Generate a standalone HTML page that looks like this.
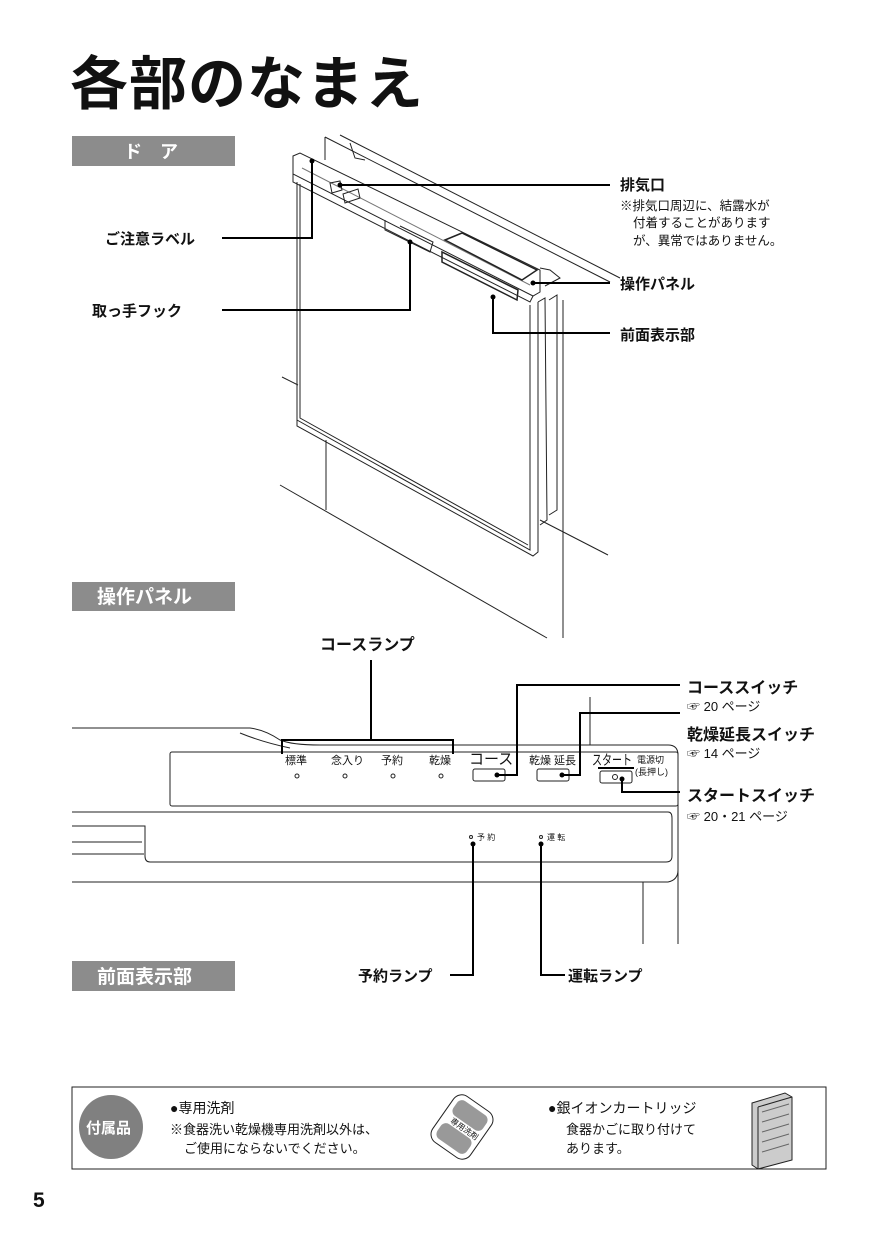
<!DOCTYPE html>
<html><head><meta charset="utf-8"><style>
body{margin:0;background:#fff;}
svg{display:block}
text{font-family:"Liberation Sans","Noto Sans CJK JP",sans-serif;fill:#111}
.b{font-weight:bold}
</style></head><body>
<svg width="874" height="1240" viewBox="0 0 874 1240" xmlns="http://www.w3.org/2000/svg">
<text x="70" y="104" font-size="58" class="b" font-weight="900" letter-spacing="1">各部のなまえ</text>

<rect x="72" y="136" width="163" height="30" fill="#8c8c8c"/>
<text x="124" y="158" font-size="18" style="fill:#fff" class="b">ド　ア</text>
<rect x="72" y="582" width="163" height="29" fill="#8c8c8c"/>
<text x="97" y="603" font-size="19" style="fill:#fff" class="b">操作パネル</text>
<rect x="72" y="961" width="163" height="30" fill="#8c8c8c"/>
<text x="97" y="983" font-size="19" style="fill:#fff" class="b">前面表示部</text>

<g fill="none" stroke="#222" stroke-width="1">
<line x1="325" y1="137" x2="610" y2="282"/>
<line x1="340" y1="135" x2="620" y2="278"/>
<line x1="325" y1="137" x2="325" y2="160"/>
<line x1="282" y1="377" x2="298" y2="385"/>
<line x1="280" y1="485" x2="547" y2="638"/>
<line x1="326" y1="440" x2="326" y2="510"/>
<line x1="540" y1="520" x2="608" y2="555"/>
<line x1="563" y1="300" x2="563" y2="638"/>
<path d="M293 156 L300 153 L540 270 L540 292 L533 296 L293 174 Z"/>
<path d="M293 174 L293 182 L530 302 L533 296"/>
<path d="M297 182 L297 420 L530 550 L530 305"/>
<path d="M300 184 L300 418 L528 545"/>
<path d="M297 420 L297 426 L533 556 L538 552 L538 302"/>
<path d="M538 302 L545 298 L547 520 L540 525"/>
<path d="M549 300 L557 295 L557 510 L549 515"/>
<path d="M302 168 L530 285" stroke="#777"/>
<path d="M330 183 L340 181 L342 190 L332 193 Z"/>
<path d="M343 194 L358 189 L360 198 L345 203 Z"/>
<path d="M385 220 L385 230 L430 252 L433 242 L400 226"/>
<path d="M445 240 L462 233 L537 270 L522 280 Z" stroke-width="1.5"/>
<path d="M442 252 L442 262 L517 300 L518 290 Z" stroke-width="1.5"/>
<path d="M350 143 L355 158 L365 160"/>
<path d="M540 268 L550 270 L560 278 L545 286"/>
</g>
<g fill="none" stroke="#000" stroke-width="2">
<polyline points="222,238 312,238 312,161"/>
<polyline points="222,310 410,310 410,242"/>
<line x1="340" y1="185" x2="610" y2="185"/>
<line x1="533" y1="283" x2="610" y2="283"/>
<polyline points="493,297 493,333 610,333"/>
</g>
<g fill="#000"><circle cx="312" cy="161" r="2.5"/><circle cx="410" cy="242" r="2.5"/><circle cx="340" cy="185" r="2.5"/><circle cx="533" cy="283" r="2.5"/><circle cx="493" cy="297" r="2.5"/></g>
<text x="105" y="244" font-size="15" class="b">ご注意ラベル</text>
<text x="92" y="316" font-size="15" class="b">取っ手フック</text>
<text x="620" y="190" font-size="15" class="b">排気口</text>
<text x="620" y="210" font-size="12.5">※排気口周辺に、結露水が</text>
<text x="633" y="227" font-size="12.5">付着することがあります</text>
<text x="633" y="245" font-size="12.5">が、異常ではありません。</text>
<text x="620" y="289" font-size="15" class="b">操作パネル</text>
<text x="620" y="340" font-size="15" class="b">前面表示部</text>

<text x="320" y="650" font-size="16" class="b">コースランプ</text>
<g fill="none" stroke="#222" stroke-width="1">
<path d="M72 728 L250 728 Q265 730 280 740 Q292 745 320 745 L668 745 Q678 745 678 755 L678 870 Q678 880 668 882 L72 882"/>
<path d="M240 733 Q262 742 290 748"/>
<rect x="170" y="752" width="508" height="54" rx="2"/>
<path d="M72 812 L668 812 Q672 812 672 818 L672 856 Q672 862 666 862 L150 862 Q145 862 145 856 L145 826 L72 826"/>
<path d="M72 842 L142 842 M72 854 L144 854"/>
<line x1="643" y1="882" x2="643" y2="944"/>
<line x1="678" y1="870" x2="678" y2="944"/>
<line x1="590" y1="697" x2="590" y2="745"/>
<rect x="473" y="769" width="32" height="12" rx="2"/>
<rect x="537" y="769" width="32" height="12" rx="2"/>
<rect x="600" y="771" width="32" height="12" rx="2"/>
<circle cx="297" cy="776" r="2"/><circle cx="345" cy="776" r="2"/><circle cx="393" cy="776" r="2"/><circle cx="441" cy="776" r="2"/>
<circle cx="615" cy="777" r="2.5"/><circle cx="471" cy="837" r="1.5"/><circle cx="541" cy="837" r="1.5"/>
</g>
<line x1="598" y1="768" x2="634" y2="768" stroke="#000" stroke-width="2"/>
<g font-size="11">
<text x="285" y="764">標準</text><text x="331" y="764">念入り</text><text x="381" y="764">予約</text><text x="429" y="764">乾燥</text>
<text x="529" y="764">乾燥 延長</text>
<text x="637" y="763" font-size="9">電源切</text><text x="635" y="775" font-size="9">(長押し)</text>
<text x="477" y="840" font-size="8">予 約</text><text x="547" y="840" font-size="8">運 転</text>
</g>
<text x="469" y="764" font-size="15">コース</text>
<text x="592" y="765" font-size="14" textLength="40" lengthAdjust="spacingAndGlyphs">スタート</text>
<g fill="none" stroke="#000" stroke-width="2">
<polyline points="282,754 282,740 453,740 453,754"/>
<line x1="371" y1="740" x2="371" y2="660"/>
<polyline points="497,775 517,775 517,685 680,685"/>
<polyline points="562,775 580,775 580,713 680,713"/>
<polyline points="622,779 622,792 680,792"/>
<polyline points="473,844 473,975 450,975"/>
<polyline points="541,844 541,975 565,975"/>
</g>
<g fill="#000"><circle cx="497" cy="775" r="2.5"/><circle cx="562" cy="775" r="2.5"/><circle cx="622" cy="779" r="2.5"/><circle cx="473" cy="844" r="2.5"/><circle cx="541" cy="844" r="2.5"/></g>
<text x="687" y="693" font-size="16" class="b">コーススイッチ</text>
<text x="687" y="711" font-size="13">☞ 20 ページ</text>
<text x="687" y="740" font-size="16" class="b">乾燥延長スイッチ</text>
<text x="687" y="758" font-size="13">☞ 14 ページ</text>
<text x="687" y="801" font-size="16" class="b">スタートスイッチ</text>
<text x="687" y="821" font-size="13">☞ 20・21 ページ</text>
<text x="358" y="981" font-size="15" class="b">予約ランプ</text>
<text x="568" y="981" font-size="15" class="b">運転ランプ</text>

<rect x="72" y="1087" width="754" height="82" fill="none" stroke="#222" stroke-width="1"/>
<circle cx="111" cy="1127" r="32" fill="#808080"/>
<text x="86" y="1133" font-size="15" style="fill:#fff" class="b">付属品</text>
<text x="170" y="1113" font-size="14">●専用洗剤</text>
<text x="170" y="1134" font-size="13">※食器洗い乾燥機専用洗剤以外は、</text>
<text x="184" y="1153" font-size="13">ご使用にならないでください。</text>
<g transform="translate(462,1127) rotate(35)">
<rect x="-23" y="-28" width="46" height="56" rx="10" fill="#fff" stroke="#222"/>
<rect x="-18" y="-23" width="36" height="18" rx="6" fill="#999"/>
<rect x="-18" y="5" width="36" height="18" rx="6" fill="#999"/>
<text x="-13" y="3" font-size="8">専用洗剤</text>
</g>
<text x="548" y="1113" font-size="14">●銀イオンカートリッジ</text>
<text x="566" y="1134" font-size="13">食器かごに取り付けて</text>
<text x="566" y="1153" font-size="13">あります。</text>
<g stroke="#222" fill="#ccc">
<path d="M752 1103 L785 1093 L792 1097 L792 1160 L758 1169 L752 1165 Z"/>
<path d="M758 1107 L792 1097 M758 1107 L758 1169" fill="none"/>
<path d="M762 1112 L789 1104 M762 1122 L789 1114 M762 1132 L789 1124 M762 1142 L789 1134 M762 1152 L789 1144" fill="none" stroke="#666"/>
</g>
<text x="33" y="1207" font-size="21" class="b">5</text>
</svg>
</body></html>
